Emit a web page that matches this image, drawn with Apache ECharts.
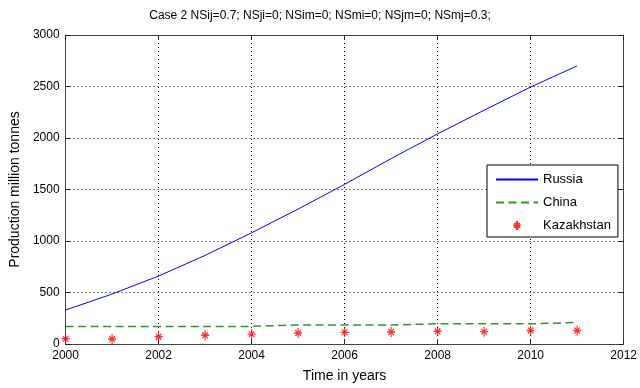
<!DOCTYPE html>
<html>
<head>
<meta charset="utf-8">
<script src="https://cdn.jsdelivr.net/npm/echarts@6/dist/echarts.min.js"></script>
<style>
html,body{margin:0;padding:0;background:#fff;}
#chart{width:640px;height:388px;}
</style>
</head>
<body>
<div id="chart"></div>
<script>
var years = [2000, 2001, 2002, 2003, 2004, 2005, 2006, 2007, 2008, 2009, 2010, 2011];
var russia = [330, 485, 660, 860, 1080, 1310, 1550, 1800, 2040, 2270, 2495, 2700];
var china = [171, 171, 171, 171, 171, 185, 185, 185, 196, 196, 196, 209];
var kazakhstan = [50, 48, 71, 84, 96, 106, 113, 116, 123, 120, 132, 132];
var xTicks = [2000, 2002, 2004, 2006, 2008, 2010, 2012];
var yTicks = [0, 500, 1000, 1500, 2000, 2500, 3000];
var titleText = 'Case 2 NSij=0.7; NSji=0; NSim=0; NSmi=0; NSjm=0; NSmj=0.3;';

function pairs(vals) { return years.map(function (y, i) { return [y, vals[i]]; }); }

var FONT = 'Liberation Sans';
var chart = echarts.init(document.getElementById('chart'), null, {renderer: 'canvas'});
var gridLine = {show: true, lineStyle: {color: '#000', type: [1, 3], width: 1}};
var frameLine = {show: true, onZero: false, lineStyle: {color: '#444', width: 1}};
var tick = {show: true, inside: true, length: 5, lineStyle: {color: '#222'}};
var label = {color: '#000', fontFamily: FONT, fontSize: 12, formatter: function (v) { return String(v); }};
var STAR = 'path://M5,0L5,12M0,6L10,6M1.5,2.5L8.5,9.5M8.5,2.5L1.5,9.5';

var option = {
  backgroundColor: '#fff',
  animation: false,
  title: {
    text: titleText, left: 'center', top: 5,
    textStyle: {fontFamily: FONT, fontSize: 12, fontWeight: 'normal', color: '#000'}
  },
  grid: {left: 62, right: 14, top: 35, bottom: 42, show: false},
  legend: {
    orient: 'vertical', left: 487, top: 165,
    data: [
      {name: 'Russia', itemStyle: {opacity: 0}},
      {name: 'China', itemStyle: {opacity: 0}},
      {name: 'Kazakhstan'}
    ],
    backgroundColor: '#fff', borderColor: '#000', borderWidth: 1,
    padding: [8, 7, 5, 8], itemGap: 10, itemWidth: 42, itemHeight: 9,
    textStyle: {fontFamily: FONT, fontSize: 13, color: '#000'}
  },
  xAxis: [{
    type: 'value', position: 'bottom', min: xTicks[0], max: xTicks[xTicks.length - 1], interval: 2,
    axisLine: frameLine, axisTick: tick, axisLabel: Object.assign({margin: 6}, label),
    splitLine: gridLine,
    name: 'Time in years', nameLocation: 'middle', nameGap: 25,
    nameTextStyle: {fontFamily: FONT, fontSize: 14, color: '#000'}
  }, {
    type: 'value', position: 'top', min: xTicks[0], max: xTicks[xTicks.length - 1], interval: 2,
    axisLine: frameLine, axisTick: tick, axisLabel: {show: false}, splitLine: {show: false}
  }],
  yAxis: [{
    type: 'value', position: 'left', min: yTicks[0], max: yTicks[yTicks.length - 1], interval: 500,
    axisLine: frameLine, axisTick: tick, axisLabel: Object.assign({margin: 6}, label),
    splitLine: gridLine,
    name: 'Production million tonnes', nameLocation: 'middle', nameGap: 35,
    nameTextStyle: {fontFamily: FONT, fontSize: 14, color: '#000'}
  }, {
    type: 'value', position: 'right', min: yTicks[0], max: yTicks[yTicks.length - 1], interval: 500,
    axisLine: frameLine, axisTick: tick, axisLabel: {show: false}, splitLine: {show: false}
  }],
  series: [{
    name: 'Russia', type: 'line', xAxisIndex: 0, yAxisIndex: 0,
    data: pairs(russia), symbol: 'none', smooth: false,
    itemStyle: {color: '#0000ff'},
    lineStyle: {color: '#0000ff', width: 1}
  }, {
    name: 'China', type: 'line', xAxisIndex: 0, yAxisIndex: 0,
    data: pairs(china), symbol: 'none',
    itemStyle: {color: '#2f962f'},
    lineStyle: {color: '#2f962f', width: 1.5, type: [8, 4.5]}
  }, {
    name: 'Kazakhstan', type: 'scatter', xAxisIndex: 0, yAxisIndex: 0,
    data: pairs(kazakhstan),
    symbol: STAR,
    symbolSize: [8, 10],
    itemStyle: {color: 'rgba(255,0,0,0)', borderColor: '#ff0000', borderWidth: 1.3}
  }]
};
chart.setOption(option);
</script>
</body>
</html>
